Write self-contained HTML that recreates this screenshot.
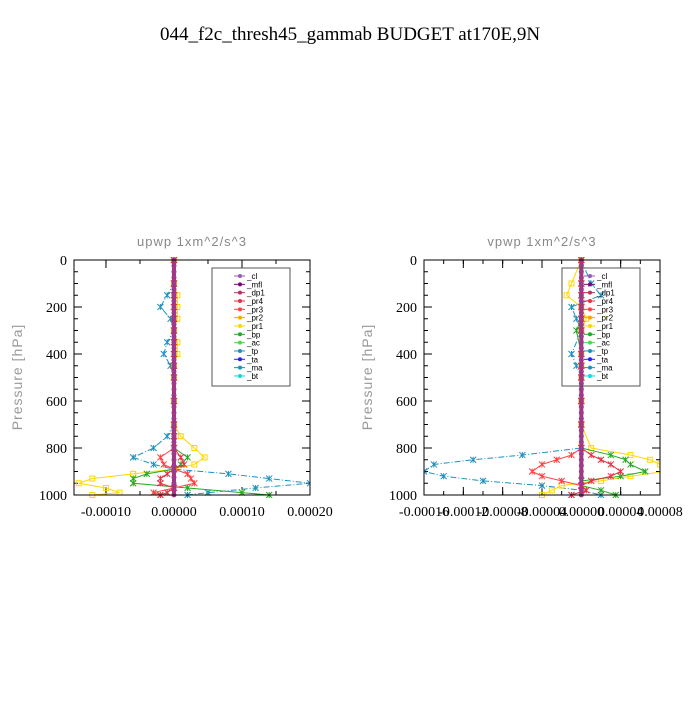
<!DOCTYPE html>
<html><head><meta charset="utf-8"><style>
body{margin:0;background:#fff;width:700px;height:700px;overflow:hidden}
svg text{font-family:"Liberation Serif",serif}
</style></head><body>
<svg id="chart" width="700" height="700" xmlns="http://www.w3.org/2000/svg">
<text x="350" y="40" text-anchor="middle" font-size="19">044_f2c_thresh45_gammab  BUDGET at170E,9N</text>
</svg>
<script>
const NS="http://www.w3.org/2000/svg";
const svg=document.getElementById('chart');
const seriesNames=["_cl","_mfl","_dp1","_pr4","_pr3","_pr2","_pr1","_bp","_ac","_tp","_ta","_ma","_bt"];
const seriesColors=["#9b59b6","#800080","#c0305a","#e83040","#ff4040","#ffa500","#ffd700","#22aa22","#40e040","#1e90c0","#2020ff","#1e90c0","#00e0e0"];
const yTicks=[0,200,400,600,800,1000];
// plot 1 (upwp), values in 1e-5
const p1Ticks=[-10,0,10,20];
const p1TickLabels=["-0.00010","0.00000","0.00010","0.00020"];
const p1Pres=[0,100,150,200,250,300,350,400,450,500,600,700,750,800,840,870,890,910,930,950,970,990,1000];
const p1_tp=[0,0,-1,-2,-0.5,0,-1,-1.5,-0.5,0,0,0,-1,-3,-6,-3,0,8,14,20,12,5,2];
const p1_pr1=[0,0,0.5,0.5,0.5,0,0.5,0.5,0,0,0,0,1,3,4.5,3,0,-6,-12,-14,-10,-8,-12];
const p1_bp=[0,0,0,0,0,0,0,0,0,0,0,0,0,0,2,1,0,-4,-6,-6,2,10,14];
const p1_pr3=[0,0,0,0,0,0,0,0,0,0,0,0,0,0,-2,-1.5,0,2,2.5,3,0,-3,-2];
const p1_pr4=[0,0,0,0,0,0,0,0,0,0,0,0,0,0,1,1.5,0,-1,-2,-2,0,-1,-2];
// plot 2 (vpwp)
const p2Ticks=[-16,-12,-8,-4,0,4,8];
const p2TickLabels=["-0.00016","-0.00012","-0.00008","-0.00004","0.00000","0.00004","0.00008"];
const p2Pres=[0,100,150,200,250,300,400,450,500,600,700,800,830,850,870,900,920,940,960,980,1000];
const p2_tp=[0,1,2,-1,-0.5,0,-1,-0.5,0,0,0,0,-6,-11,-15,-16,-14,-10,-4,0,2];
const p2_pr1=[0,-1,-1.5,0,0.5,0,0,0,0,0,0,1,5,7,8,8.5,5,2,-2,-3,-4];
const p2_bp=[0,0,0,0,0,-0.5,0,0,0,0,0,0,3,4.5,5,6.5,4,0,0,2,3.5];
const p2_pr3=[0,0,0,0,0,0,0,0,0,0,0,0,-1,-2.5,-4,-5,-4,-2,0,0.5,-1];
const p2_pr4=[0,0,0,0,0,0,0,0,0,0,0,0,1,2,3,4,3,1,0,0.5,-1];

function el(tag,attrs,parent){const e=document.createElementNS(NS,tag);for(const k in attrs)e.setAttribute(k,attrs[k]);(parent||svg).appendChild(e);return e;}

function drawPlot(cfg){
  const g=el('g',{});
  
  
  const L=cfg.left,R=cfg.right,T=260,B=495;
  const xs=v=>L+(v-cfg.xmin)/(cfg.xmax-cfg.xmin)*(R-L);
  const ys=p=>T+p/1000*(B-T);
  const t=el('text',{x:(L+R)/2,y:246,'text-anchor':'middle','font-size':13,fill:'#888','style':'font-family:"Liberation Sans",sans-serif;letter-spacing:1px'},g);
  t.textContent=cfg.title;
  
  
  const yl=el('text',{x:0,y:0,'text-anchor':'middle','font-size':14,fill:'#999',transform:`translate(${L-52},377) rotate(-90)`,'style':'font-family:"Liberation Sans",sans-serif;letter-spacing:1px'},g);
  yl.textContent="Pressure [hPa]";
  
  
  // minor y ticks
  for(let p=0;p<=1000;p+=50){const y=ys(p);const len=p%200==0?8:4;
    el('line',{x1:L,x2:L+len,y1:y,y2:y,stroke:'#000'},g);el('line',{x1:R,x2:R-len,y1:y,y2:y,stroke:'#000'},g);}
  yTicks.forEach(p=>{const tx=el('text',{x:L-7,y:ys(p)+5,'text-anchor':'end','font-size':14},g);tx.textContent=p;
    
    });
  cfg.ticks.forEach((v,i)=>{const x=xs(v);
    el('line',{x1:x,x2:x,y1:B,y2:B-8,stroke:'#000'},g);el('line',{x1:x,x2:x,y1:T,y2:T+8,stroke:'#000'},g);
    const tx=el('text',{x:x,y:B+21,'text-anchor':'middle','font-size':14},g);tx.textContent=cfg.labels[i];
    
    });
  const step=(cfg.ticks[1]-cfg.ticks[0])/2;
  for(let v=cfg.ticks[0]-step;v<=cfg.xmax;v+=step){if(v<cfg.xmin)continue;const x=xs(v);
    el('line',{x1:x,x2:x,y1:B,y2:B-4,stroke:'#000'},g);el('line',{x1:x,x2:x,y1:T,y2:T+4,stroke:'#000'},g);}
  // series
  const clipId='clip'+cfg.name;
  const cp=el('clipPath',{id:clipId},g);el('rect',{x:L,y:T-3,width:R-L,height:B-T+6},cp);
  const sg=el('g',{'clip-path':`url(#${clipId})`},g);
  cfg.series.forEach(s=>{
    const pts=s.vals.map((v,i)=>[xs(v),ys(cfg.pres[i])]);
    const pl=el('polyline',{points:pts.map(p=>p.join(',')).join(' '),fill:'none',stroke:s.color,'stroke-width':1,'stroke-dasharray':s.dash||''},sg);
    
    
    pts.forEach(p=>{if(s.marker=='sq')el('rect',{x:p[0]-2.5,y:p[1]-2.5,width:5,height:5,fill:'none',stroke:s.color},sg);
      else el('path',{d:`M${p[0]-3},${p[1]-3}L${p[0]+3},${p[1]+3}M${p[0]+3},${p[1]-3}L${p[0]-3},${p[1]+3}M${p[0]},${p[1]-3}V${p[1]+3}`,stroke:s.color},sg);});
  });
  // zero profile lines (cl/mfl/dp1)
  const x0=xs(0);
  el('line',{x1:x0,x2:x0,y1:T,y2:B,stroke:'#c0305a','stroke-width':4},sg);
  el('line',{x1:x0,x2:x0,y1:T,y2:B,stroke:'#8e3a9e','stroke-width':2},sg);
  for(let p=0;p<=1000;p+=25)el('circle',{cx:x0,cy:ys(p),r:2.5,fill:'#9b3a8e'},sg);
  el('rect',{x:L,y:T,width:R-L,height:B-T,fill:'none',stroke:'#000','stroke-width':1},g);
  // legend
  const lg=el('g',{},g);
  
  
  el('rect',{x:L+138,y:268,width:78,height:118,fill:'none',stroke:'#555'},lg);
  seriesNames.forEach((n,i)=>{const y=276+i*8.33;
    el('line',{x1:L+160,x2:L+171,y1:y,y2:y,stroke:seriesColors[i]},lg);
    el('circle',{cx:L+166,cy:y,r:2,fill:seriesColors[i]},lg);
    const tx=el('text',{x:L+173,y:y+3,'font-size':8,'style':'font-family:"Liberation Sans",sans-serif'},lg);tx.textContent=n;
    
    });
}
drawPlot({name:'upwp-plot',title:'upwp   1xm^2/s^3',left:74,right:310,xmin:-14.7,xmax:20,ticks:p1Ticks,labels:p1TickLabels,pres:p1Pres,
  series:[{key:'tp',vals:p1_tp,color:'#1e90c0',dash:'6,2,1,2'},{key:'pr1',vals:p1_pr1,color:'#ffd700',marker:'sq'},
          {key:'bp',vals:p1_bp,color:'#22aa22'},{key:'pr3',vals:p1_pr3,color:'#ff4040'},{key:'pr4',vals:p1_pr4,color:'#e83040'}]});
drawPlot({name:'vpwp-plot',title:'vpwp   1xm^2/s^3',left:424,right:660,xmin:-16,xmax:8,ticks:p2Ticks,labels:p2TickLabels,pres:p2Pres,
  series:[{key:'tp',vals:p2_tp,color:'#1e90c0',dash:'6,2,1,2'},{key:'pr1',vals:p2_pr1,color:'#ffd700',marker:'sq'},
          {key:'bp',vals:p2_bp,color:'#22aa22'},{key:'pr3',vals:p2_pr3,color:'#ff4040'},{key:'pr4',vals:p2_pr4,color:'#e83040'}]});
</script>
</body></html>
